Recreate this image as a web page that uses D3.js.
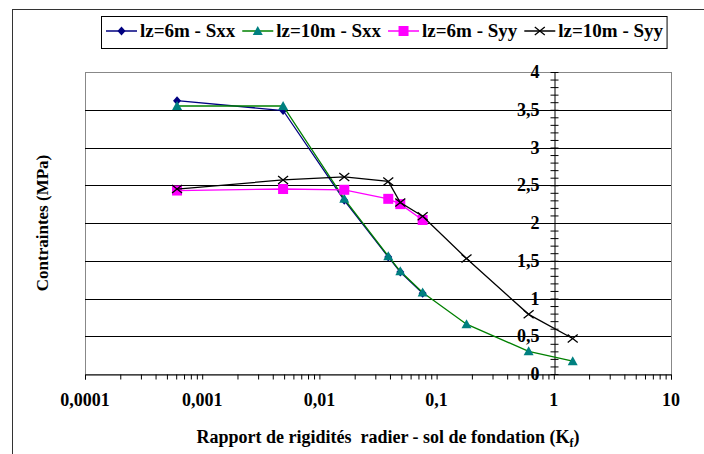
<!DOCTYPE html>
<html><head><meta charset="utf-8">
<script src="https://cdn.jsdelivr.net/npm/d3@7"></script>
<style>body{margin:0;background:#fff}svg{display:block}</style>
</head><body>
<svg id="c" width="704" height="454"></svg>
<script>
const kf = [0.00061, 0.0049, 0.0163, 0.0387, 0.049, 0.076, 0.18, 0.61, 1.45];
const sxx6 = [3.62, 3.49, 2.30, 1.55, 1.35, 1.07];
const sxx10 = [3.55, 3.55, 2.32, 1.56, 1.36, 1.08, 0.66, 0.30, 0.17];
const syy6 = [2.43, 2.45, 2.44, 2.32, 2.25, 2.04];
const syy10 = [2.45, 2.57, 2.61, 2.55, 2.27, 2.09, 1.53, 0.79, 0.47];
const seriesNames = ["lz=6m - Sxx", "lz=10m - Sxx", "lz=6m - Syy", "lz=10m - Syy"];
const xTicks = [0.0001, 0.001, 0.01, 0.1, 1, 10];
const xTickLabels = ["0,0001", "0,001", "0,01", "0,1", "1", "10"];
const yTicks = [0, 0.5, 1, 1.5, 2, 2.5, 3, 3.5, 4];
const yTickLabels = ["0", "0,5", "1", "1,5", "2", "2,5", "3", "3,5", "4"];
const xTitle = "Rapport de rigidités\u00a0 radier - sol de fondation (K";
const yTitle = "Contraintes (MPa)";

const FONT = '"Liberation Serif"';
const svg = d3.select("#c").style("font-family", FONT).style("font-weight", "bold");
const L = 85, R = 671, T = 72, B = 374;
const x = d3.scaleLog().domain([0.0001, 10]).range([L, R]);
const y = d3.scaleLinear().domain([0, 4]).range([B, T]);

svg.append("rect").attr("x", 12.5).attr("y", 9.5).attr("width", 900).attr("height", 900)
  .attr("fill", "none").attr("stroke", "#333").attr("stroke-width", 1);

svg.append("rect").attr("x", L + 0.5).attr("y", T + 0.5).attr("width", R - L).attr("height", B - T)
  .attr("fill", "none").attr("stroke", "#888");

svg.append("g").selectAll("line").data(yTicks.filter(v => v > 0 && v < 4)).join("line")
  .attr("x1", L).attr("x2", R).attr("y1", d => Math.round(y(d)) + 0.5).attr("y2", d => Math.round(y(d)) + 0.5)
  .attr("stroke", "#000");

const minor = [];
for (let e = -4; e < 1; e++) for (let m = 1; m <= 9; m++) minor.push(m * Math.pow(10, e));
minor.push(10);
const xa = svg.append("g").attr("transform", `translate(0,${B + 0.5})`)
  .call(d3.axisBottom(x).tickValues(minor).tickSize(5).tickFormat(""));
xa.select(".domain").attr("stroke", "#000");
xa.selectAll(".tick line").attr("stroke", "#000");
svg.append("g").selectAll("text").data(xTicks).join("text")
  .attr("x", d => x(d)).attr("y", 406).attr("text-anchor", "middle").attr("font-size", 18)
  .style("font-family", FONT).style("font-weight", "bold")
  .text((d, i) => xTickLabels[i]);

const ax = Math.round(x(1)) + 0.5;
const ya = svg.append("g").attr("transform", `translate(${ax},0)`)
  .call(d3.axisLeft(y).tickValues(d3.range(0, 41).map(i => i / 10)).tickSize(4).tickSizeOuter(0).tickFormat(""));
ya.select(".domain").attr("stroke", "#000");
ya.selectAll(".tick line").attr("stroke", "#000").attr("x1", 4).attr("x2", -4);
svg.append("g").selectAll("text").data(yTicks).join("text")
  .attr("x", ax - 15).attr("y", d => y(d) + 6).attr("text-anchor", "end").attr("font-size", 18)
  .style("font-family", FONT).style("font-weight", "bold")
  .text((d, i) => yTickLabels[i]);

const xt = svg.append("text").attr("x", 388).attr("y", 443).attr("text-anchor", "middle").attr("font-size", 18)
  .style("font-family", FONT).style("font-weight", "bold");
xt.append("tspan").text(xTitle);
xt.append("tspan").text("f").attr("font-size", 12).attr("dy", 4);
xt.append("tspan").text(")").attr("dy", -4);
svg.append("text").attr("transform", `translate(48,${(T + B) / 2}) rotate(-90)`)
  .style("font-family", FONT).style("font-weight", "bold")
  .attr("text-anchor", "middle").attr("font-size", 17).text(yTitle);

const styles = [
  {vals: sxx6, line: "#000080", fill: "#000080", marker: "diamond"},
  {vals: sxx10, line: "#008000", fill: "#008080", marker: "triangle"},
  {vals: syy6, line: "#FF00FF", fill: "#FF00FF", marker: "square"},
  {vals: syy10, line: "#000000", fill: "#000000", marker: "cross"}
];
function drawMarker(g, type, cx, cy, s) {
  if (type === "diamond") g.append("path").attr("d", `M${cx},${cy-4.5}L${cx+4},${cy}L${cx},${cy+4.5}L${cx-4},${cy}Z`).attr("fill", s.fill);
  else if (type === "triangle") g.append("path").attr("d", `M${cx},${cy-5}L${cx+5},${cy+4}L${cx-5},${cy+4}Z`).attr("fill", s.fill);
  else if (type === "square") g.append("rect").attr("x", cx-5).attr("y", cy-5).attr("width", 10).attr("height", 10).attr("fill", s.fill);
  else g.append("path").attr("d", `M${cx-5},${cy-4}L${cx+5},${cy+4}M${cx-5},${cy+4}L${cx+5},${cy-4}`).attr("stroke", s.line).attr("stroke-width", 1.3);
}
const line = d3.line().x(d => x(d[0])).y(d => y(d[1]));
styles.forEach(s => {
  const pts = s.vals.map((v, i) => [kf[i], v]);
  const g = svg.append("g");
  g.append("path").attr("d", line(pts)).attr("fill", "none").attr("stroke", s.line).attr("stroke-width", 1.3);
  pts.forEach(p => drawMarker(g, s.marker, x(p[0]), y(p[1]), s));
});

const lg = svg.append("g");
const box = lg.append("rect").attr("y", 16.5).attr("height", 32).attr("fill", "#fff").attr("stroke", "#000");
let cx = 106;
const ly = 31;
styles.forEach((s, i) => {
  lg.append("line").attr("x1", cx).attr("x2", cx + 31).attr("y1", ly).attr("y2", ly).attr("stroke", s.line).attr("stroke-width", 1.5);
  drawMarker(lg, s.marker, cx + 15.5, ly, s);
  const t = lg.append("text").attr("x", cx + 34).attr("y", ly + 6).attr("font-size", 19)
    .style("font-family", FONT).style("font-weight", "bold").text(seriesNames[i]);
  cx += 34 + t.node().getComputedTextLength() + 7;
});
box.attr("x", 101.5).attr("width", cx - 7 + 4 - 101.5);
</script>
</body></html>
